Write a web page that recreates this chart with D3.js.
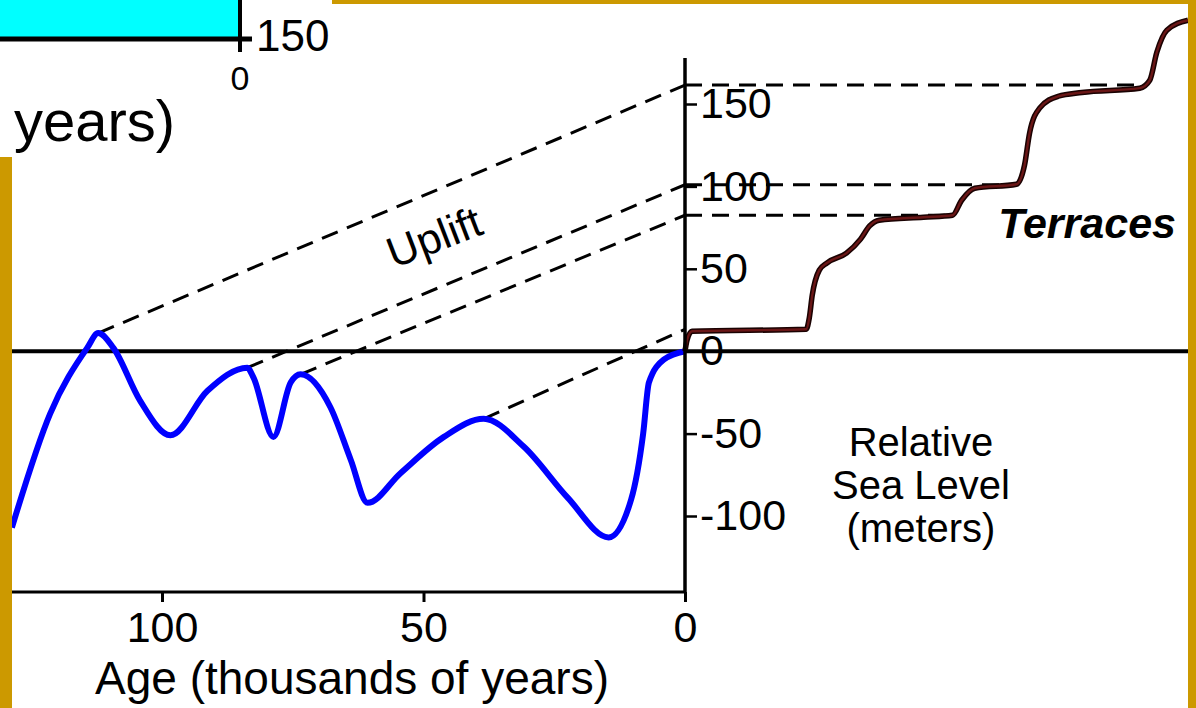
<!DOCTYPE html>
<html>
<head>
<meta charset="utf-8">
<script src="https://cdn.jsdelivr.net/npm/d3@7"></script>
<style>
  html, body { margin: 0; padding: 0; background: #fff; }
  svg { display: block; }
</style>
</head>
<body>
<div id="chart"></div>
<script>
// sea level curve (age in kyr, relative sea level in m)
const seaAges = [128.7, 121.4, 114.3, 112.2, 109.3, 104.2, 98.4, 91.3, 83.7, 82.5, 78.7, 75.4, 73.5,
                 67.8, 63.9, 60.7, 54.4, 46.1, 38.5, 30.8, 22.4, 14.6, 10.3, 8.0, 6.9, 4.0, 0];
const seaLevels = [-107, -38, 2, 11, 2, -30, -51, -24, -10, -16, -52, -19, -14,
                   -34, -66, -92, -74, -52, -41, -58, -89, -113, -90, -50, -19, -5, 0];

// terrace profile (distance 0-100, elevation in m)
const terraceDist = [0, 0.4, 1.4, 24.1, 24.7, 25.3, 26.7, 28.2, 32.1, 34.9, 36.7, 38.6, 47.4, 53.2,
                     55.0, 57.6, 65.9, 67.5, 68.5, 70.5, 74.2, 78.9, 90.4, 92.4, 93.8, 95.8, 100];
const terraceElev = [0, 6.7, 12.1, 13.3, 20, 34, 49.2, 53.5, 59.5, 68, 76, 79.5, 81.3, 82.5,
                     91.6, 98.9, 101.3, 112.9, 132.3, 147.5, 154.7, 157, 159.6, 164.4, 181.4, 194.8, 200.8];

// uplifted highstands -> terraces
const highAges = [112.2, 83.7, 73.5, 38.5];
const highSea = [11, -10, -14, -41];
const terraceHeights = [161.5, 101, 82.5, 13.3];
const terraceEnds = [90.4, 65.9, 53.2, null];

const yTicks = [150, 100, 50, 0, -50, -100];
const xTicks = [100, 50, 0];

const W = 1196, H = 708;
const font = '"Liberation Sans", Arial, Helvetica, sans-serif';
const gold = '#cc9900';

const svg = d3.select('#chart').append('svg')
  .attr('width', W).attr('height', H)
  .style('font-family', font);

const x = d3.scaleLinear().domain([130, 0]).range([685 - 130 * 5.23, 685]);
const y = d3.scaleLinear().domain([-100, 150]).range([516, 104]);
const xT = d3.scaleLinear().domain([0, 100]).range([685, 1188]);

// leftover piece of a previous slide (top left)
svg.append('rect').attr('x', 0).attr('y', 0).attr('width', 240).attr('height', 38).attr('fill', '#00ffff');
svg.append('line').attr('x1', 0).attr('x2', 252).attr('y1', 39).attr('y2', 39)
  .attr('stroke', '#000').attr('stroke-width', 5);
svg.append('line').attr('x1', 240).attr('x2', 240).attr('y1', 0).attr('y2', 52)
  .attr('stroke', '#000').attr('stroke-width', 4);
svg.append('text').attr('x', 256).attr('y', 51).attr('font-size', 44).text('150');
svg.append('text').attr('x', 240).attr('y', 90).attr('font-size', 34)
  .attr('text-anchor', 'middle').text('0');
svg.append('text').attr('x', 14).attr('y', 141).attr('font-size', 58).text('years)');

// dashed uplift lines
const dash = svg.append('g')
  .attr('stroke', '#000').attr('stroke-width', 3)
  .attr('stroke-dasharray', '17,10').attr('fill', 'none');

highAges.forEach((a, i) => {
  dash.append('line')
    .attr('x1', x(a)).attr('y1', y(highSea[i]))
    .attr('x2', x(0)).attr('y2', y(terraceHeights[i]));
  if (terraceEnds[i] != null) {
    dash.append('line')
      .attr('x1', x(0)).attr('y1', y(terraceHeights[i]))
      .attr('x2', xT(terraceEnds[i])).attr('y2', y(terraceHeights[i]));
  }
});

// zero line
svg.append('line').attr('x1', 12).attr('x2', 1188).attr('y1', y(0)).attr('y2', y(0))
  .attr('stroke', '#000').attr('stroke-width', 4);

// sea level curve
const seaLine = d3.line()
  .x((d, i) => x(seaAges[i]))
  .y(d => y(d))
  .curve(d3.curveMonotoneX);

svg.append('path')
  .attr('d', seaLine(seaLevels))
  .attr('fill', 'none').attr('stroke', '#0000ff')
  .attr('stroke-width', 6).attr('stroke-linejoin', 'round');

// terrace profile
const terLine = d3.line()
  .x((d, i) => xT(terraceDist[i]))
  .y(d => y(d))
  .curve(d3.curveMonotoneX);

svg.append('path')
  .attr('d', terLine(terraceElev))
  .attr('fill', 'none').attr('stroke', '#1a0202').attr('stroke-width', 5.5);
svg.append('path')
  .attr('d', terLine(terraceElev))
  .attr('fill', 'none').attr('stroke', '#6a1616').attr('stroke-width', 2.4);

// axes
svg.append('line').attr('x1', 685).attr('x2', 685).attr('y1', 58).attr('y2', 593)
  .attr('stroke', '#000').attr('stroke-width', 3.5);
svg.append('line').attr('x1', 12).attr('x2', 686).attr('y1', 592).attr('y2', 592)
  .attr('stroke', '#000').attr('stroke-width', 3);

const yAxis = svg.append('g')
  .attr('transform', `translate(685,0)`)
  .call(d3.axisRight(y).tickValues(yTicks).tickSize(12).tickPadding(3).tickFormat(d => String(d)));
yAxis.select('.domain').remove();
yAxis.selectAll('line').attr('stroke-width', 2.5);
yAxis.selectAll('text').attr('font-size', 43).attr('font-family', font).attr('fill', '#000');

const xAxis = svg.append('g')
  .attr('transform', `translate(0,592)`)
  .call(d3.axisBottom(x).tickValues(xTicks).tickSize(10).tickPadding(9).tickFormat(d => String(d)));
xAxis.select('.domain').remove();
xAxis.selectAll('line').attr('stroke-width', 3);
xAxis.selectAll('text').attr('font-size', 43).attr('font-family', font).attr('fill', '#000');

// labels
svg.append('text').attr('x', 352).attr('y', 694).attr('font-size', 46)
  .attr('text-anchor', 'middle').text('Age (thousands of years)');

const rsl = svg.append('text').attr('font-size', 40).attr('text-anchor', 'middle');
['Relative', 'Sea Level', '(meters)'].forEach((t, i) => {
  rsl.append('tspan').attr('x', 921).attr('y', 456 + i * 43).text(t);
});

svg.append('text').attr('x', 1176).attr('y', 238).attr('font-size', 43)
  .attr('font-weight', 'bold').attr('font-style', 'italic')
  .attr('text-anchor', 'end').text('Terraces');

svg.append('text')
  .attr('transform', 'translate(434,237) rotate(-21)')
  .attr('font-size', 43).attr('text-anchor', 'middle').attr('dy', '0.35em')
  .text('Uplift');

// gold frame bits
svg.append('rect').attr('x', 0).attr('y', 157).attr('width', 12).attr('height', H - 157).attr('fill', gold);
svg.append('rect').attr('x', 332).attr('y', 0).attr('width', W - 332).attr('height', 4).attr('fill', gold);
svg.append('rect').attr('x', 1188).attr('y', 0).attr('width', 8).attr('height', H).attr('fill', gold);
</script>
</body>
</html>
